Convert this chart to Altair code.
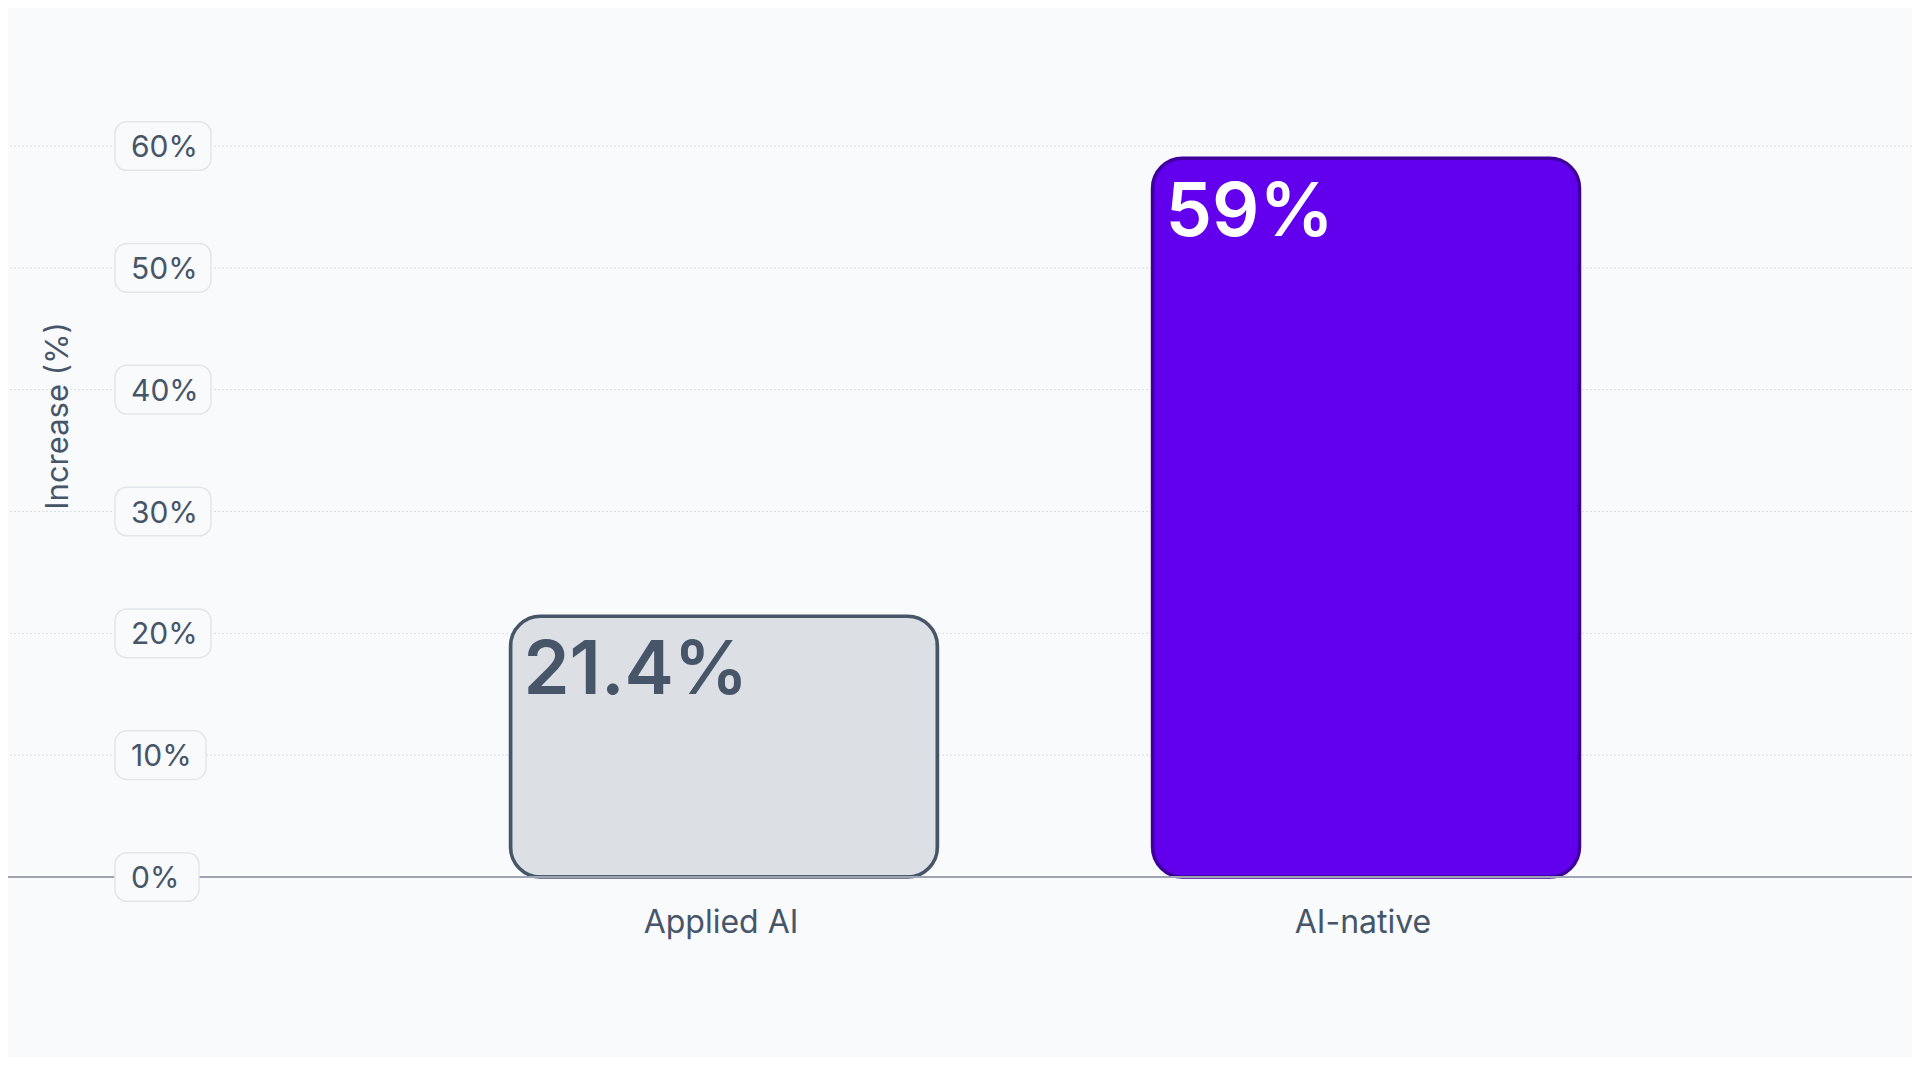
import altair as alt
import pandas as pd

# ---- data ----
categories = ["Applied AI", "AI-native"]
values = [21.4, 59]
value_labels = ["21.4%", "59%"]
tick_values = [0, 10, 20, 30, 40, 50, 60]
tick_labels = ["0%", "10%", "20%", "30%", "40%", "50%", "60%"]
axis_title = "Increase (%)"

FONT = "Inter"
TEXT = "#475569"
BG = "#f8fafc"

bars_df = pd.DataFrame({"cat": categories, "v": values, "lab": value_labels})
ticks_df = pd.DataFrame({"tick": tick_values, "lab": tick_labels})
zero_df = pd.DataFrame({"tick": [0]})
title_df = pd.DataFrame({"t": [axis_title]})

yscale = alt.Scale(domain=[0, 60], nice=False, zero=True)
xscale = alt.Scale(domain=categories, range=[502.5, 1571.5], paddingInner=0.335, paddingOuter=0)

grid = alt.Chart(ticks_df).transform_filter("datum.tick > 0").mark_rule(
    color="#d9dee5", strokeWidth=1, strokeDash=[2, 2]
).encode(y=alt.Y("tick:Q", scale=yscale, axis=None))

bars = alt.Chart(bars_df).mark_bar(cornerRadius=30, strokeWidth=3.5).encode(
    x=alt.X("cat:N", sort=categories, scale=xscale,
            axis=alt.Axis(title=None, labelAngle=0, domain=False, ticks=False,
                          labelFont=FONT, labelFontSize=32, labelColor=TEXT,
                          labelPadding=30, labelOffset=-3)),
    y=alt.Y("v:Q", scale=yscale, axis=None),
    fill=alt.Fill("cat:N", scale=alt.Scale(domain=categories, range=["#dce0e5", "#6200ee"]), legend=None),
    stroke=alt.Stroke("cat:N", scale=alt.Scale(domain=categories, range=["#475569", "#40009e"]), legend=None),
)

value_text = alt.Chart(bars_df).mark_text(
    font=FONT, fontSize=74, fontWeight=600, align="left", baseline="top", dx=13, dy=20
).encode(
    x=alt.X("cat:N", sort=categories, scale=xscale, bandPosition=0),
    y=alt.Y("v:Q", scale=yscale),
    text="lab:N",
    color=alt.Color("cat:N", scale=alt.Scale(domain=categories, range=[TEXT, "#ffffff"]), legend=None),
)

zero_rule = alt.Chart(zero_df).mark_rule(color="#9ea3b5", strokeWidth=2).encode(
    y=alt.Y("tick:Q", scale=yscale)
)

def box_layer(filter_expr, right):
    return alt.Chart(ticks_df).transform_filter(filter_expr).transform_calculate(
        lo="datum.tick - 2", hi="datum.tick + 2"
    ).mark_rect(fill=BG, stroke="#e2e6eb", strokeWidth=1.5, cornerRadius=12).encode(
        x=alt.value(107), x2=alt.value(right),
        y=alt.Y("lo:Q", scale=yscale), y2="hi:Q",
    )

boxes_wide = box_layer("length(datum.lab) == 3 && datum.tick != 10", 203)
boxes_ten = box_layer("datum.tick == 10", 198)
boxes_zero = box_layer("datum.tick == 0", 191)

tick_text = alt.Chart(ticks_df).mark_text(
    font=FONT, fontSize=30, align="left", baseline="middle", color=TEXT, dy=2
).encode(
    x=alt.value(123),
    y=alt.Y("tick:Q", scale=yscale),
    text="lab:N",
)

title_text = alt.Chart(title_df).mark_text(
    font=FONT, fontSize=31, angle=270, align="center", baseline="middle", color=TEXT
).encode(x=alt.value(51), y=alt.value(270), text="t:N")

chart = alt.layer(
    grid, bars, zero_rule, value_text, boxes_wide, boxes_ten, boxes_zero, tick_text, title_text
).properties(
    width=1904, height=731, background=BG,
    padding={"left": 0, "top": 138, "right": 0, "bottom": 180},
    autosize=alt.AutoSizeParams(type="none"),
).configure_view(stroke=None)

chart.save("out.html", embed_options={"renderer": "svg", "actions": False})
